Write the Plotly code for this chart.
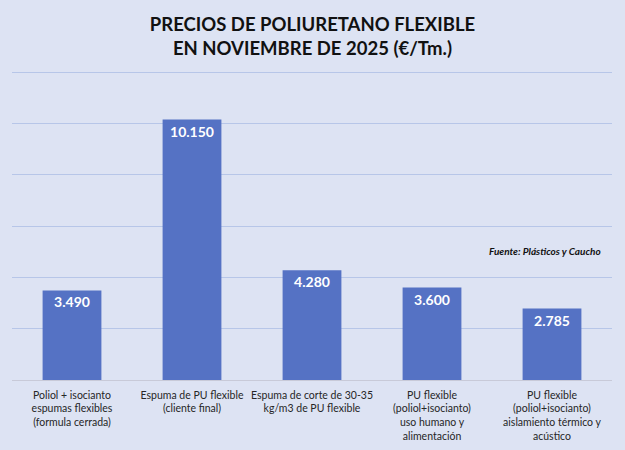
import plotly.graph_objects as go

# datos
categorias = [
    'Poliol + isocianto<br>espumas flexibles<br>(formula cerrada)',
    'Espuma de PU flexible<br>(cliente final)',
    'Espuma de corte de 30-35<br>kg/m3 de PU flexible',
    'PU flexible<br>(poliol+isocianto)<br>uso humano y<br>alimentación',
    'PU flexible<br>(poliol+isocianto)<br>aislamiento térmico y<br>acústico',
]
precios = [3490, 10150, 4280, 3600, 2785]

titulo = '<b>PRECIOS DE POLIURETANO FLEXIBLE<br>EN NOVIEMBRE DE 2025 (€/Tm.)</b>'
fuente = '<b><i>Fuente: Plásticos y Caucho</i></b>'

bg = '#dde3f3'
bar_color = '#5572c4'
font_family = 'Lato, "Open Sans", sans-serif'

fig = go.Figure()
fig.add_trace(go.Bar(
    x=categorias, y=precios,
    marker=dict(color=bar_color, line=dict(width=0)),
    texttemplate='<b>%{y:,.0f}</b>', textposition='inside', insidetextanchor='end',
    textfont=dict(color='white', size=14, family=font_family),
    textangle=0,
    cliponaxis=False,
    hoverinfo='skip',
))

fig.update_layout(
    width=625, height=450,
    paper_bgcolor=bg, plot_bgcolor=bg,
    separators=',.',
    margin=dict(l=12, r=13, t=71, b=70),
    bargap=0.51,
    showlegend=False,
    font=dict(family=font_family, color='#222222'),
    title=dict(text=titulo, x=0.5, xanchor='center', y=1 - 31 / 450, yanchor='middle',
               font=dict(size=18.5, color='#111111', family=font_family)),
)
fig.update_xaxes(showgrid=False, showline=True, linecolor='#c8cad8', linewidth=1,
                 tickfont=dict(size=10.5, color='#262626'), ticks='', tickangle=0,
                 ticklabelstandoff=5, automargin=False)
fig.update_yaxes(range=[0, 12040], dtick=2000, showgrid=True, gridcolor='#b7c6e8', gridwidth=1,
                 zeroline=False, showticklabels=False, showline=False, automargin=False)

fig.add_annotation(text=fuente, xref='paper', yref='y', x=(545 - 12) / 600, y=5030,
                   showarrow=False, xanchor='center', yanchor='middle',
                   font=dict(size=10, color='#111111', family=font_family))

# quitar el margen por defecto del body
fig.write_html('out.html', config={'displayModeBar': False},
               post_script="document.body.style.margin='0';")
